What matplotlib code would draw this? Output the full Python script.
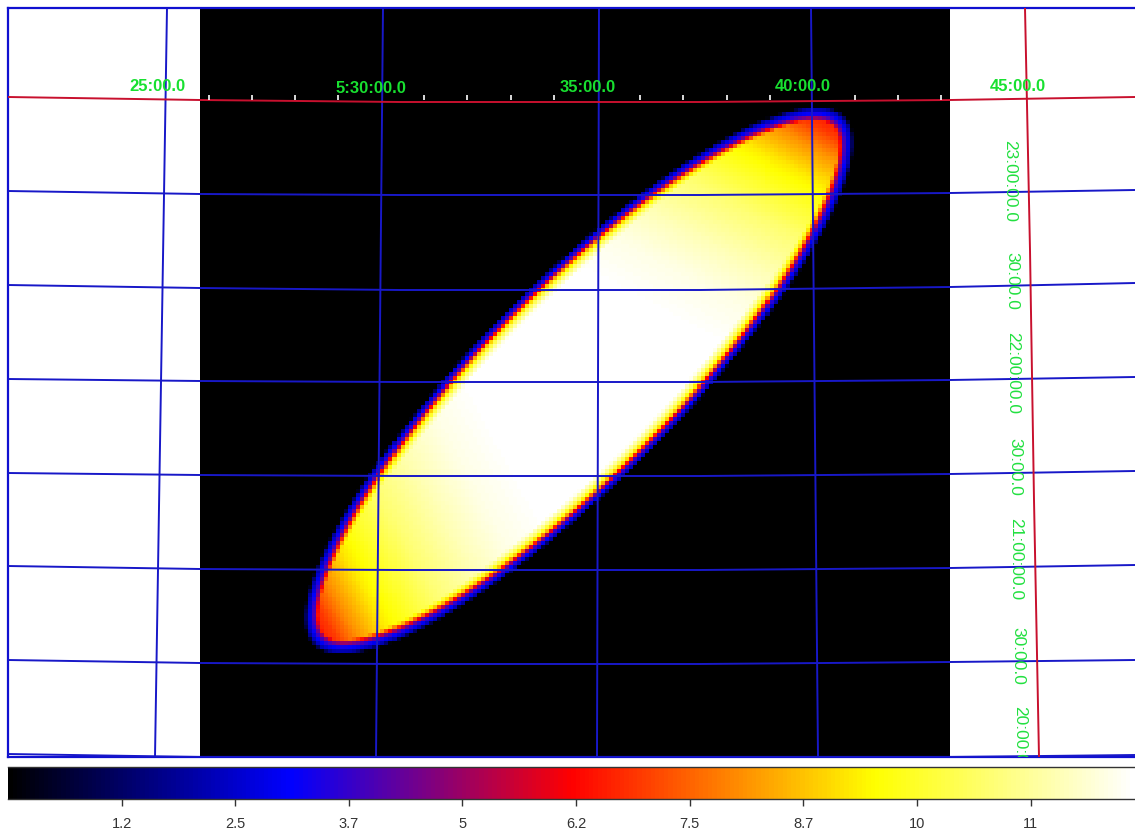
import numpy as np
import matplotlib
matplotlib.use("Agg")
import matplotlib.pyplot as plt
from matplotlib.colors import LinearSegmentedColormap

plt.rcParams['font.family'] = ['Liberation Sans', 'DejaVu Sans']

W, H = 1135, 834

# colour scale
vmax = 12.3
cmap_stops = [0.0, 0.25, 0.5, 0.77, 1.0]
cmap_colors = ["#000000", "#0000ff", "#ff0000", "#ffff00", "#ffffff"]
cbar_ticks = [1.24, 2.48, 3.72, 4.96, 6.2, 7.44, 8.68, 9.92, 11.16]
cbar_labels = ["1.2", "2.5", "3.7", "5", "6.2", "7.5", "8.7", "10", "11"]

# sky map, values (axes are in image pixels)
map_x = [200, 950]
map_y = [8, 757]
cell = 4.0
centre_x, centre_y = 578, 380
semi_major, semi_minor = 374, 100
along_pos = [0, 100, 150, 190, 240, 273, 300, 330, 350, 375]
along_val = [12.3, 12.3, 12.0, 11.5, 10.7, 9.9, 9.2, 8.0, 6.9, 6.1]
edge_dist = [0, 2, 5, 8, 10, 13, 18, 26]
edge_val = [0, 2.0, 3.1, 4.5, 6.2, 8.7, 10.6, 12.3]
skew = 0.3

# grid lines
v_names = ["25:00.0", "5:30:00.0", "35:00.0", "40:00.0", "45:00.0"]
v_top = [167, 383, 599, 811]
v_bot = [155, 376, 597, 818]
ra_line_y = [8, 250, 500, 757]
ra_red_x = [1025, 1030, 1034, 1039]
h_knots = [8, 200, 400, 700, 950, 1135]
h_lines = [
    [191, 194, 195, 195, 193, 190],
    [285, 288, 290, 290, 287, 283],
    [379, 381, 382, 382, 380, 377],
    [473, 475, 476, 476, 474, 471],
    [566, 569, 570, 570, 568, 565],
    [660, 663, 664, 664, 662, 660],
    [754, 757, 757, 757, 757, 755],
]
h_red = [97, 100, 102, 102, 100, 97]

# labels
top_label_x = [157, 371, 588, 803, 1018]
top_label_y = [86, 88, 87, 86, 86]
side_labels = ["23:00:00.0", "30:00.0", "22:00:00.0", "30:00.0", "21:00:00.0", "30:00.0", "20:00:00.0"]
side_label_x = [1010, 1012, 1013, 1015, 1016, 1018, 1020]
side_label_y = [140, 252, 332, 438, 518, 627, 706]
minor_ticks = [209, 252, 295, 338, 424, 467, 511, 554, 640, 683, 727, 770, 855, 898, 941]

cmap = LinearSegmentedColormap.from_list("ds9b", list(zip(cmap_stops, cmap_colors)))

xs = np.arange(map_x[0] + cell / 2, map_x[1], cell)
ys = np.arange(map_y[0] + cell / 2, map_y[1], cell)
xx, yy = np.meshgrid(xs, ys)
u = ((xx - centre_x) - (yy - centre_y)) / np.sqrt(2)
w = ((xx - centre_x) + (yy - centre_y)) / np.sqrt(2)
rho = np.sqrt((u / semi_major) ** 2 + (w / semi_minor) ** 2)
grad = np.sqrt((u / semi_major ** 2) ** 2 + (w / semi_minor ** 2) ** 2) / np.maximum(rho, 1e-6)
dist = (1 - rho) / np.maximum(grad, 1e-6)
# blue rim is thin along the long sides and wider round the tips
dist = dist * np.clip(1.3 - 0.7 * (u / semi_major) ** 2, 0.6, 1.3)
peak = np.interp(np.abs(u) - skew * w, along_pos, along_val)
edge = np.interp(dist, edge_dist, edge_val, left=0)
field = np.minimum(peak, edge)

fig = plt.figure(figsize=(W / 100, H / 100), dpi=100, facecolor="white")

ax = fig.add_axes([8 / W, 1 - 757 / H, (W - 8) / W, (757 - 8) / H])
ax.imshow(field, cmap=cmap, vmin=0, vmax=vmax, interpolation="nearest", aspect="auto",
          extent=[map_x[0], map_x[1], map_y[1], map_y[0]], zorder=1)
ax.set_xlim(8, W)
ax.set_ylim(757, 8)
ax.set_xticks([])
ax.set_yticks([])
for s in ["left", "top", "bottom"]:
    ax.spines[s].set_color("#1010d0")
    ax.spines[s].set_linewidth(1.6)
ax.spines["right"].set_visible(False)

blue = "#1818c8"
red = "#c8102e"
for t, b in zip(v_top, v_bot):
    ax.plot([t, b], [8, 757], color=blue, lw=1.4, zorder=3)
for line in h_lines:
    ax.plot(h_knots, line, color=blue, lw=1.4, zorder=3)
ax.plot(h_knots, h_red, color=red, lw=1.4, zorder=4)
ax.plot(ra_red_x, ra_line_y, color=red, lw=1.4, zorder=4)

ax.vlines(minor_ticks, 95, 100, color="white", lw=1.2, zorder=5)

for name, x, y in zip(v_names, top_label_x, top_label_y):
    ax.text(x, y, name, color="#18e030", fontsize=12, fontweight="bold",
            ha="center", va="center", zorder=6)
for name, x, y in zip(side_labels, side_label_x, side_label_y):
    ax.text(x, y, name, color="#22e040", fontsize=12.5, rotation=-90,
            ha="center", va="top", clip_on=True, zorder=6)

cax = fig.add_axes([8 / W, 1 - 799 / H, (W - 8) / W, 32 / H])
cax.imshow(np.linspace(0, vmax, 1127)[None, :], cmap=cmap, vmin=0, vmax=vmax, aspect="auto",
           extent=[0, vmax, 0, 1])
cax.set_xticks(cbar_ticks)
cax.set_xticklabels(cbar_labels, fontsize=10.5, color="#333333")
cax.tick_params(axis="x", length=5, width=1, color="#333333", pad=8)
cax.set_yticks([])
for s in ["left", "right"]:
    cax.spines[s].set_visible(False)
for s in ["top", "bottom"]:
    cax.spines[s].set_color("#333333")
    cax.spines[s].set_linewidth(1)

fig.savefig("out.png", dpi=100)
